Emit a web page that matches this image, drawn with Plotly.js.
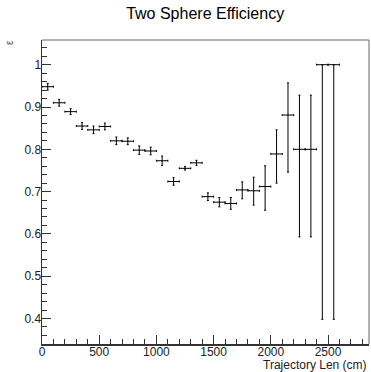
<!DOCTYPE html>
<html>
<head>
<meta charset="utf-8">
<script src="https://cdn.plot.ly/plotly-3.0.1.min.js"></script>
<style>html,body{margin:0;padding:0;background:#fff;}#chart{width:371px;height:372px;}</style>
</head>
<body>
<div id="chart"></div>
<script>
// Bin centres (cm), efficiency values and asymmetric errors
const trajLen = [50,150,250,350,450,550,650,750,850,950,1050,1150,1250,1350,1450,1550,1650,1750,1850,1950,2050,2150,2250,2350,2450,2550];
const binHalfWidth = [50,50,50,50,50,50,50,50,50,50,50,50,50,50,50,50,50,50,50,50,50,50,50,50,50,50];
const efficiency = [0.948,0.910,0.889,0.855,0.846,0.854,0.820,0.819,0.798,0.796,0.773,0.724,0.755,0.768,0.688,0.675,0.672,0.704,0.702,0.712,0.789,0.881,0.800,0.800,1.000,1.000];
const errUp = [0.008,0.008,0.007,0.008,0.009,0.008,0.009,0.008,0.010,0.009,0.011,0.009,0.004,0.006,0.009,0.011,0.014,0.019,0.032,0.049,0.057,0.076,0.128,0.128,0.000,0.000];
const errDown = [0.008,0.008,0.007,0.008,0.009,0.008,0.009,0.008,0.010,0.009,0.011,0.009,0.004,0.006,0.009,0.011,0.014,0.021,0.034,0.056,0.069,0.135,0.207,0.207,0.602,0.602];

const titleText = "Two Sphere Efficiency";
const xTitle = "Trajectory Len (cm)";
const yTitle = "\u03b5";

const font = "Liberation Sans, Arial, Helvetica, sans-serif";

const trace = {
  type: "scatter",
  mode: "markers",
  x: trajLen,
  y: efficiency,
  marker: {size: 1, color: "#000"},
  error_x: {type: "data", array: binHalfWidth, symmetric: true, color: "#000", thickness: 1, width: 1},
  error_y: {type: "data", array: errUp, arrayminus: errDown, symmetric: false, color: "#000", thickness: 1, width: 1},
  cliponaxis: true,
  hoverinfo: "x+y"
};

const layout = {
  width: 371, height: 372,
  margin: {l: 42, r: 2, t: 40, b: 28, pad: 0},
  paper_bgcolor: "#fff", plot_bgcolor: "#fff",
  showlegend: false,
  font: {family: font, size: 12, color: "#222"},
  title: {text: titleText, font: {family: font, size: 16, color: "#000"}, x: 0.553, xanchor: "center", y: 0.965, yanchor: "middle"},
  xaxis: {
    range: [0, 2858], showgrid: false, zeroline: false,
    showline: true, linecolor: "#333", linewidth: 1.5,
    ticks: "inside", ticklen: 9, tickwidth: 1, tickcolor: "#333",
    tickmode: "linear", tick0: 0, dtick: 500,
    ticklabelstandoff: -4,
    minor: {ticks: "inside", ticklen: 5, dtick: 100, tickcolor: "#333", tickwidth: 1, showgrid: false},
    tickfont: {family: font, size: 12, color: "#222"}
  },
  yaxis: {
    range: [0.3397, 1.0584], showgrid: false, zeroline: false,
    showline: true, linecolor: "#333", linewidth: 1.5,
    ticks: "inside", ticklen: 9, tickwidth: 1, tickcolor: "#333",
    tickmode: "linear", tick0: 0, dtick: 0.1,
    ticklabelstandoff: -3,
    minor: {ticks: "inside", ticklen: 5, dtick: 0.02, tickcolor: "#333", tickwidth: 1, showgrid: false},
    tickfont: {family: font, size: 12, color: "#222"}
  },
  shapes: [
    {type: "line", xref: "paper", yref: "paper", x0: 0, x1: 1, y0: 1, y1: 1, line: {color: "#666", width: 1}},
    {type: "line", xref: "paper", yref: "paper", x0: 1, x1: 1, y0: 0, y1: 1, line: {color: "#666", width: 1}}
  ],
  annotations: [
    {text: xTitle, xref: "paper", yref: "paper", x: 1, y: 0, xanchor: "right", yanchor: "top", yshift: -12, showarrow: false, font: {family: font, size: 12, color: "#222"}},
    {text: yTitle, xref: "paper", yref: "paper", x: 0, y: 1, xanchor: "center", yanchor: "middle", xshift: -33, yshift: -3, textangle: -90, showarrow: false, font: {family: font, size: 10, color: "#555"}}
  ]
};

Plotly.newPlot("chart", [trace], layout, {staticPlot: true, displayModeBar: false});
</script>
</body>
</html>
